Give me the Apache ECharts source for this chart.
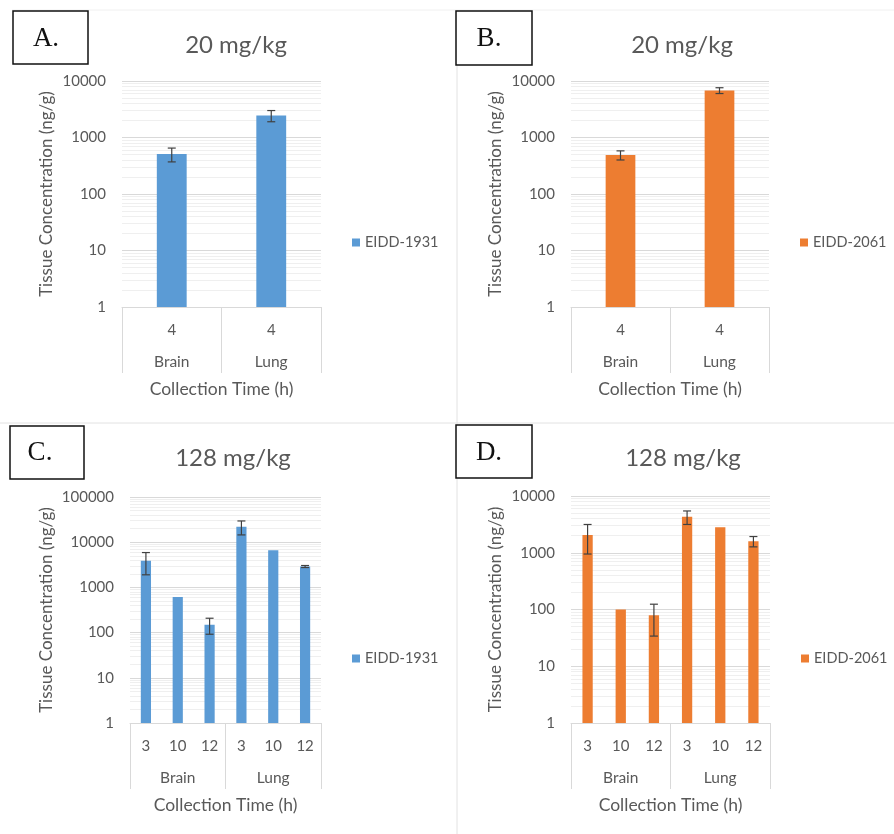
<!DOCTYPE html>
<html>
<head>
<meta charset="utf-8">
<script src="https://cdn.jsdelivr.net/npm/echarts@6/dist/echarts.min.js"></script>
<style>
  html, body { margin: 0; padding: 0; background: #fff; }
  #chart { width: 894px; height: 834px; }
</style>
</head>
<body>
<div id="chart"></div>
<script>
// tissue data
const groups = ['Brain', 'Lung'];
const timesLow = ['4', '4'];
const timesHigh = ['3', '10', '12', '3', '10', '12'];

const valuesA = [510, 2450];
const errorsA = [140, 550];
const valuesB = [490, 6800];
const errorsB = [90, 800];
const valuesC = [3900, 610, 150, 22000, 6600, 2900];
const errorsC = [2000, 0, 58, 7500, 0, 150];
const valuesD = [2050, 100, 79, 4300, 2800, 1600];
const errorsD = [1100, 0, 45, 1150, 0, 330];

const BLUE = '#5b9bd5';
const ORANGE = '#ed7d31';
const TXT = '#595959';
const FONT = 'Lato, "Open Sans", sans-serif';

const panels = [
    { tag: 'A.', title: '20 mg/kg', name: 'EIDD-1931', color: BLUE, times: timesLow, values: valuesA, errors: errorsA, max: 10000,
      grid: { left: 122, top: 81, width: 199, height: 226 }, nameGap: 67, barWidth: '30%',
      titleAt: [236, 45], legendAt: [352, 235], box: [13, 11, 75, 53], tagAt: [46, 39] },
    { tag: 'B.', title: '20 mg/kg', name: 'EIDD-2061', color: ORANGE, times: timesLow, values: valuesB, errors: errorsB, max: 10000,
      grid: { left: 571, top: 81, width: 198, height: 226 }, nameGap: 67, barWidth: '30%',
      titleAt: [682, 45], legendAt: [800, 235], box: [456, 11, 76, 54], tagAt: [489, 39] },
    { tag: 'C.', title: '128 mg/kg', name: 'EIDD-1931', color: BLUE, times: timesHigh, values: valuesC, errors: errorsC, max: 100000,
      grid: { left: 130, top: 497, width: 191, height: 226 }, nameGap: 75, barWidth: '32%',
      titleAt: [233, 458], legendAt: [352, 651], box: [10, 426, 74, 53], tagAt: [40, 453] },
    { tag: 'D.', title: '128 mg/kg', name: 'EIDD-2061', color: ORANGE, times: timesHigh, values: valuesD, errors: errorsD, max: 10000,
      grid: { left: 571, top: 496, width: 199, height: 227 }, nameGap: 67, barWidth: '31%',
      titleAt: [683, 458], legendAt: [801, 651], box: [456, 425, 76, 53], tagAt: [489, 453] }
];

// minor gridlines at 2..9 of every decade
function minorLines(max) {
    const out = [];
    for (let d = 1; d < max; d *= 10) {
        for (let k = 2; k <= 9; k++) out.push({ yAxis: d * k });
    }
    return out;
}

function errorItem(params, api) {
    const e = api.value(2);
    if (!e) return null;
    const x = api.value(0), v = api.value(1);
    const top = api.coord([x, v + e]);
    const bot = api.coord([x, Math.max(v - e, 1)]);
    const c = 4;
    const style = { stroke: '#404040', lineWidth: 1.2 };
    return {
        type: 'group',
        children: [
            { type: 'line', shape: { x1: top[0], y1: top[1], x2: bot[0], y2: bot[1] }, style: style },
            { type: 'line', shape: { x1: top[0] - c, y1: top[1], x2: top[0] + c, y2: top[1] }, style: style },
            { type: 'line', shape: { x1: bot[0] - c, y1: bot[1], x2: bot[0] + c, y2: bot[1] }, style: style }
        ]
    };
}

const option = {
    backgroundColor: '#fff',
    animation: false,
    textStyle: { fontFamily: FONT },
    grid: [], xAxis: [], yAxis: [], series: [], legend: [], graphic: []
};

// panel separators
option.graphic.push(
    { type: 'line', shape: { x1: 12, y1: 10, x2: 894, y2: 10 }, style: { stroke: '#f0f0f0', lineWidth: 1 }, silent: true },
    { type: 'line', shape: { x1: 457, y1: 10, x2: 457, y2: 834 }, style: { stroke: '#e2e2e2', lineWidth: 1 }, silent: true },
    { type: 'line', shape: { x1: 0, y1: 423, x2: 894, y2: 423 }, style: { stroke: '#e2e2e2', lineWidth: 1 }, silent: true }
);

panels.forEach(function (p, i) {
    option.grid.push(Object.assign({ containLabel: false }, p.grid));

    option.xAxis.push({
        type: 'category', gridIndex: i, position: 'bottom', data: p.times,
        axisLine: { show: true, lineStyle: { color: '#d9d9d9', width: 1 } },
        axisTick: { show: false },
        axisLabel: { color: TXT, fontSize: 15, margin: 16, interval: 0 },
        splitLine: { show: false }
    });
    option.xAxis.push({
        type: 'category', gridIndex: i, position: 'bottom', data: groups,
        axisLine: { show: false },
        axisTick: { show: true, length: 66, lineStyle: { color: '#d9d9d9', width: 1 } },
        axisLabel: { color: TXT, fontSize: 15.5, margin: 47, interval: 0 },
        name: 'Collection Time (h)', nameLocation: 'middle', nameGap: 73,
        nameTextStyle: { color: TXT, fontSize: 17.5 }
    });
    option.yAxis.push({
        type: 'log', logBase: 10, gridIndex: i, min: 1, max: p.max,
        axisLine: { show: false }, axisTick: { show: false },
        axisLabel: { color: TXT, fontSize: 15, margin: 16, formatter: function (v) { return String(Math.round(v)); } },
        splitLine: { show: true, lineStyle: { color: '#d9d9d9', width: 1 } },
        name: 'Tissue Concentration (ng/g)', nameLocation: 'middle', nameGap: p.nameGap,
        nameTextStyle: { color: TXT, fontSize: 17 }
    });

    option.series.push({
        type: 'bar', name: p.name, xAxisIndex: i * 2, yAxisIndex: i,
        data: p.values, barWidth: p.barWidth, z: 10,
        itemStyle: { color: p.color },
        markLine: {
            silent: true, symbol: 'none', label: { show: false },
            lineStyle: { color: '#efefef', width: 1, type: 'solid' },
            data: minorLines(p.max)
        }
    });
    option.series.push({
        type: 'custom', name: p.name + ' error', xAxisIndex: i * 2, yAxisIndex: i, z: 11,
        renderItem: errorItem,
        encode: { x: 0, y: 1 },
        data: p.values.map(function (v, k) { return [k, v, p.errors[k]]; })
    });

    option.legend.push({
        data: [p.name], left: p.legendAt[0], top: p.legendAt[1], padding: 0,
        icon: 'rect', itemWidth: 8, itemHeight: 8, itemGap: 5, selectedMode: false,
        textStyle: { color: TXT, fontSize: 14.5, fontFamily: FONT }
    });

    option.graphic.push(
        { type: 'text', x: p.titleAt[0], y: p.titleAt[1], silent: true,
          style: { text: p.title, fill: TXT, font: '24px ' + FONT, textAlign: 'center', textVerticalAlign: 'middle' } },
        { type: 'rect', shape: { x: p.box[0], y: p.box[1], width: p.box[2], height: p.box[3] }, silent: true,
          style: { fill: '#fff', stroke: '#111', lineWidth: 1.5 } },
        { type: 'text', x: p.tagAt[0], y: p.tagAt[1], silent: true,
          style: { text: p.tag, fill: '#111', font: '27px "Liberation Serif", serif', textAlign: 'center', textVerticalAlign: 'middle' } }
    );
});

const chart = echarts.init(document.getElementById('chart'), null, { renderer: 'canvas' });
chart.setOption(option);
</script>
</body>
</html>
